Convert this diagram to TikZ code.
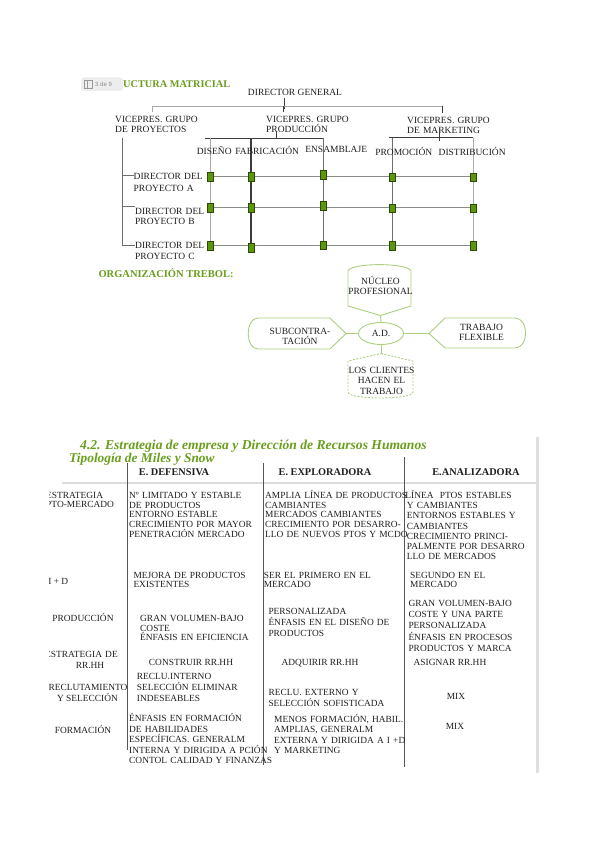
\documentclass[tikz,border=0pt]{standalone}
\usepackage{fontspec}
\setmainfont{Liberation Serif}
\newfontfamily\badgefont{Liberation Sans}
\usetikzlibrary{shapes.geometric}
\definecolor{ink}{RGB}{30,30,30}
\definecolor{tgreen}{RGB}{104,158,28}
\definecolor{lgreen}{RGB}{172,206,125}
\definecolor{sqgreen}{RGB}{92,150,12}
\definecolor{sqedge}{RGB}{45,75,5}
\definecolor{lgray}{RGB}{170,170,170}
\definecolor{mgray}{RGB}{110,110,110}
\definecolor{dgray}{RGB}{60,60,60}
\definecolor{tabline}{RGB}{85,85,85}
\definecolor{barg}{RGB}{220,220,220}
\newcommand\tabf[1]{\fontsize{9.4}{#1}\selectfont}
\newcommand\topf[1]{\fontsize{9.5}{#1}\selectfont}
\begin{document}
\begin{tikzpicture}[x=1pt,y=-1pt,
  lbl/.style={inner sep=0pt, text=ink, font=\topf{10.5}},
  mlbl/.style={anchor=base west, inner sep=0pt, align=left, text width=120pt, text=ink},
  clbl/.style={anchor=base, inner sep=0pt, align=center, text width=90pt, text=ink},
  cell/.style={anchor=base west, inner sep=0pt, align=left, text width=175pt, text=ink},
  cc/.style={anchor=base, inner sep=0pt, text=ink, font=\tabf{10}},
  sq/.style={fill=sqgreen, draw=sqedge, line width=0.5pt, minimum width=5.5pt, minimum height=8.5pt, inner sep=0pt},
  tre/.style={draw=lgreen, line width=0.9pt},
  gtitle/.style={inner sep=0pt, text=tgreen, anchor=base west}]
\useasboundingbox (0,0) rectangle (599,848);

% ---------- badge and title ----------
\fill[black!7, rounded corners=3pt] (81,77.5) rectangle (123,91) ;
\draw[black!40, line width=0.5pt] (84.5,80.5) rectangle (92,88);
\draw[black!40, line width=0.5pt] (87,80.5) -- (87,88);
\node[inner sep=0pt, anchor=base west, text=black!45, font=\badgefont\fontsize{6}{7}\selectfont] (badge) at (95,86.7) {3 de 9};
\node[gtitle, font=\fontsize{10.3}{12}\selectfont\bfseries] (mtitle) at (123,87.6) {UCTURA MATRICIAL};

% ---------- matrix structure ----------
\node[lbl, anchor=base] (dg) at (295,95.8) {DIRECTOR GENERAL};
\node[mlbl, font=\topf{10}] (vp1) at (115,122.4) {VICEPRES. GRUPO\\DE PROYECTOS};
\node[mlbl, font=\topf{10}] (vp2) at (266,122.4) {VICEPRES. GRUPO\\PRODUCCIÓN};
\node[mlbl, font=\topf{10}] (vp3) at (407,123.1) {VICEPRES. GRUPO\\DE MARKETING};

\coordinate (dgb) at (284,98);
\coordinate (dgl) at (284,109);
\draw[dgray, line width=0.7pt] (dgb) -- (dgl);
\coordinate (hl) at (152.7,106);
\coordinate (hr) at (442.7,106);
\draw[lgray, line width=0.8pt] (hl) -- (hr);
\draw[lgray, line width=0.8pt] (hl) -- ++(0,6);
\draw[dgray, line width=0.7pt] (283,106) -- ++(0,6);
\draw[dgray, line width=0.7pt] (hr) -- ++(0,7);

% production bar
\coordinate (pv) at (276.7,131.5);
\draw[dgray, line width=0.8pt] (pv) -- (276.7,138.3);
\draw[dgray, line width=0.8pt] (205,138.3) -- (323.3,138.3);
% marketing bar
\coordinate (mv) at (439.3,128);
\draw[dgray, line width=0.8pt] (mv) -- (439.3,140.5);
\draw[dgray, line width=0.8pt] (389.3,137.7) -- (472.7,137.7);

% column lines
\draw[lgray, line width=0.8pt] (210,138.3) -- (210,250);
\draw[dgray, line width=1.1pt] (251,138.3) -- (251,250);
\draw[mgray, line width=0.8pt] (323,138.3) -- (323,249);
\draw[mgray, line width=0.8pt] (392,137.7) -- (392,250);
\draw[lgray, line width=0.8pt] (473,137.7) -- (473,250);

% row lines
\draw[mgray!80, line width=0.8pt] (210,176) -- (473,176);
\draw[mgray!80, line width=0.8pt] (210,207) -- (473,207);
\draw[mgray!80, line width=0.8pt] (210,245.5) -- (473,245.5);

% left bracket
\draw[mgray, line width=0.8pt] (122.3,138) -- (122.3,245.5);
\draw[mgray, line width=0.8pt] (122.3,175.7) -- (133.5,175.7);
\draw[mgray, line width=0.8pt] (122.3,206.7) -- (135,206.7);
\draw[mgray, line width=0.8pt] (122.3,245.5) -- (135,245.5);

% department labels
\node[lbl, anchor=base] (dis) at (214.2,154.1) {DISEÑO};
\node[lbl, anchor=base] (fab) at (267.2,154.1) {FABRICACIÓN};
\node[lbl, anchor=base] (ens) at (336.2,152.4) {ENSAMBLAJE};
\node[lbl, anchor=base] (pro) at (403.8,155.1) {PROMOCIÓN};
\node[lbl, anchor=base] (dst) at (472.2,155.1) {DISTRIBUCIÓN};

% project directors
\node[mlbl, font=\topf{11.6}] (pa) at (133.5,179.8) {DIRECTOR DEL\\PROYECTO A};
\node[mlbl, font=\topf{10.7}] (pb) at (135,214.1) {DIRECTOR DEL\\PROYECTO B};
\node[mlbl, font=\topf{11}] (pc) at (135,248.8) {DIRECTOR DEL\\PROYECTO C};

% green squares
\node[sq] (a1) at (210,176.5) {};
\node[sq] (a2) at (251,176.5) {};
\node[sq] (a3) at (323,174.5) {};
\node[sq] (a4) at (392,177) {};
\node[sq] (a5) at (473,177) {};
\node[sq] (b1) at (210,207.5) {};
\node[sq] (b2) at (251,207.5) {};
\node[sq] (b3) at (323,205.5) {};
\node[sq] (b4) at (392,208) {};
\node[sq] (b5) at (473,208) {};
\node[sq] (c1) at (210,245.5) {};
\node[sq] (c2) at (251,247.5) {};
\node[sq] (c3) at (323,245) {};
\node[sq] (c4) at (392,245.5) {};
\node[sq] (c5) at (473,245.5) {};

% ---------- trebol ----------
\node[gtitle, font=\fontsize{10.5}{12}\selectfont\bfseries] (ttitle) at (98.3,277) {ORGANIZACIÓN TREBOL:};

\draw[tre] (348,306) -- (348,271) .. controls (351,262.5) and (408,262.5) .. (411,271) -- (411,306) -- (380.5,315.5) -- cycle;
\draw[tre] (258,318) -- (330,318) -- (346,333.5) -- (330,349) -- (258,349) .. controls (245,349) and (245,318) .. (258,318) -- cycle;
\draw[tre] (429,333.5) -- (445,318) -- (515,318) .. controls (529,318) and (529,348) .. (515,348) -- (445,348) -- cycle;
\draw[tre, dashed, dash pattern=on 2pt off 1.5pt] (381,353.5) -- (413,361) -- (413,392) .. controls (413,400) and (348,400) .. (348,392) -- (348,361) -- cycle;

\node[ellipse, tre, minimum width=45pt, minimum height=22pt, inner sep=0pt, font=\topf{10.5}, text=ink] (ad) at (381,333.5) {A.D.};
\coordinate (nucP) at (380.5,315.5);
\coordinate (subP) at (346,333.5);
\coordinate (trabP) at (429,333.5);
\coordinate (cliP) at (381,353.5);
\draw[tre] (nucP) -- (ad.north);
\draw[tre] (subP) -- (ad.west);
\draw[tre] (ad.east) -- (trabP);
\draw[tre] (ad.south) -- (cliP);

\node[clbl, font=\topf{10.2}] (nuc) at (380.5,284.2) {NÚCLEO\\PROFESIONAL};
\node[clbl, font=\topf{10.2}] (sub) at (300,334.2) {SUBCONTRA-\\TACIÓN};
\node[clbl, font=\topf{10.3}] (trab) at (481.5,330.2) {TRABAJO\\FLEXIBLE};
\node[clbl, font=\topf{10.6}] (cli) at (381.5,373.2) {LOS CLIENTES\\HACEN EL\\TRABAJO};

% ---------- table ----------
\node[gtitle, font=\fontsize{13.6}{15}\selectfont\bfseries\itshape] (tt1) at (80,449) {4.2. Estrategia de empresa y Dirección de Recursos Humanos};
\node[gtitle, font=\fontsize{13.4}{15}\selectfont\bfseries\itshape] (tt2) at (69,462.4) {Tipología de Miles y Snow};

\draw[barg, line width=2pt] (62,483) -- (536,483);
\draw[barg!90, line width=2.5pt] (537.5,437) -- (537.5,773);
\draw[tabline, line width=0.8pt] (127,463) -- (127,750);
\draw[tabline, line width=0.8pt] (263,463) -- (263,765);
\draw[tabline, line width=0.8pt] (404,457) -- (404,767);

\node[cc, font=\fontsize{10.3}{11}\selectfont\bfseries] (h1) at (174,475.8) {E. DEFENSIVA};
\node[cc, font=\fontsize{10.3}{11}\selectfont\bfseries] (h2) at (325,475.8) {E. EXPLORADORA};
\node[cc, font=\fontsize{10.3}{11}\selectfont\bfseries] (h3) at (476,475.8) {E.ANALIZADORA};

% left column (clipped at the page edge)
\begin{scope}
\clip (49.5,485) rectangle (127,770);
\node[cell, font=\tabf{9.5}] (r1) at (46,498.1) {ESTRATEGIA\\PTO-MERCADO};
\node[cc] (r2) at (58.3,584.8) {I + D};
\node[cc] (r3) at (83,621.4) {PRODUCCIÓN};
\node[cell, font=\tabf{10}] (r4a) at (45,657.1) {ESTRATEGIA DE};
\node[cc] (r4b) at (90,668.1) {RR.HH};
\node[cc] (r5a) at (88,690.4) {RECLUTAMIENTO};
\node[cc] (r5b) at (87.5,701.4) {Y SELECCIÓN};
\node[cc] (r6) at (83,733.8) {FORMACIÓN};
\end{scope}

% column 1
\node[cell, font=\tabf{9.9}] (d1) at (129,498.1) {Nº LIMITADO Y ESTABLE\\DE PRODUCTOS\\ENTORNO ESTABLE\\CRECIMIENTO POR MAYOR\\PENETRACIÓN MERCADO};
\node[cell, font=\tabf{9.5}] (d2) at (133.3,578.1) {MEJORA DE PRODUCTOS\\EXISTENTES};
\node[cell, font=\tabf{9.6}] (d3) at (140,621.4) {GRAN VOLUMEN-BAJO\\COSTE\\ÉNFASIS EN EFICIENCIA};
\node[cc] (d4) at (191,665.4) {CONSTRUIR RR.HH};
\node[cell, font=\tabf{10.8}] (d5) at (136.7,679.8) {RECLU.INTERNO\\SELECCIÓN ELIMINAR\\INDESEABLES};
\node[cell, font=\tabf{10.6}] (d6) at (129,721.4) {ÉNFASIS EN FORMACIÓN\\DE HABILIDADES\\ESPECÍFICAS. GENERALM\\INTERNA Y DIRIGIDA A PCIÓN\\CONTOL CALIDAD Y FINANZAS};

% column 2
\node[cell, font=\tabf{9.9}] (e1) at (265,498.1) {AMPLIA LÍNEA DE PRODUCTOS\\CAMBIANTES\\MERCADOS CAMBIANTES\\CRECIMIENTO POR DESARRO-\\LLO DE NUEVOS PTOS Y MCDO};
\node[cell, font=\tabf{9.5}] (e2) at (263.6,578.1) {SER EL PRIMERO EN EL\\MERCADO};
\node[cell, font=\tabf{10.8}] (e3) at (268.3,614.8) {PERSONALIZADA\\ÉNFASIS EN EL DISEÑO DE\\PRODUCTOS};
\node[cc] (e4) at (320,665.4) {ADQUIRIR RR.HH};
\node[cell, font=\tabf{11.3}] (e5) at (268.3,695.2) {RECLU. EXTERNO Y\\SELECCIÓN SOFISTICADA};
\node[cell, font=\tabf{10.3}] (e6) at (274,722.4) {MENOS FORMACIÓN, HABIL.\\AMPLIAS, GENERALM\\EXTERNA Y DIRIGIDA A I +D\\Y MARKETING};

% column 3
\node[cell, font=\tabf{10.3}] (f1) at (406.7,498.1) {\hspace*{-1.5pt}LÍNEA\ \ PTOS ESTABLES\\Y CAMBIANTES\\ENTORNOS ESTABLES Y\\CAMBIANTES\\CRECIMIENTO PRINCI-\\PALMENTE POR DESARRO\\LLO DE MERCADOS};
\node[cell, font=\tabf{9.5}] (f2) at (410,578.1) {SEGUNDO EN EL\\MERCADO};
\node[cell, font=\tabf{11.25}] (f3) at (408.3,606.4) {GRAN VOLUMEN-BAJO\\COSTE Y UNA PARTE\\PERSONALIZADA\\ÉNFASIS EN PROCESOS\\PRODUCTOS Y MARCA};
\node[cc] (f4) at (450,665.4) {ASIGNAR RR.HH};
\node[cc] (f5) at (456,699.1) {MIX};
\node[cc] (f6) at (455,729.8) {MIX};
\end{tikzpicture}
\end{document}
